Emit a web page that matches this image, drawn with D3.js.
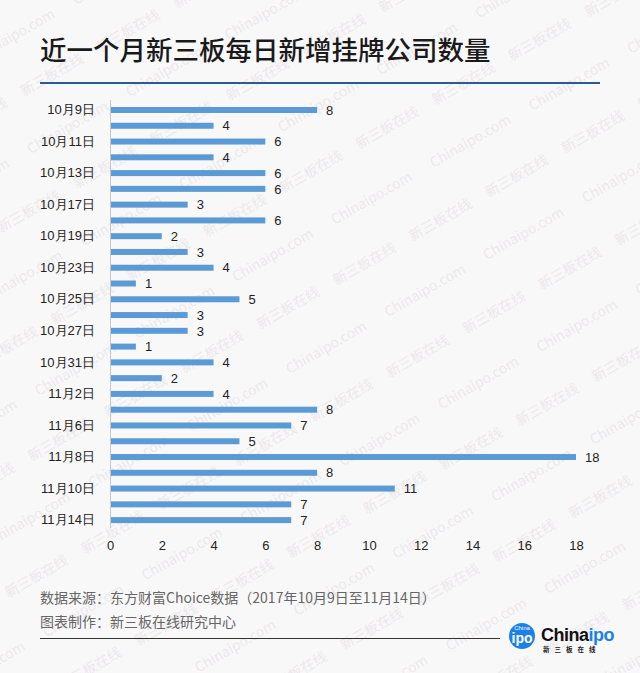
<!DOCTYPE html>
<html><head><meta charset="utf-8">
<script src="https://cdn.jsdelivr.net/npm/d3@7"></script>
<style>
html,body{margin:0;padding:0;background:#f9f8f9;}
svg{display:block;font-family:"Noto Sans CJK SC","Noto Sans",sans-serif;}
</style></head>
<body><svg id="c" width="640" height="673"></svg>
<script>
const dates = ["10月9日","10月10日","10月11日","10月12日","10月13日","10月16日","10月17日","10月18日","10月19日","10月20日","10月23日","10月24日","10月25日","10月26日","10月27日","10月30日","10月31日","11月1日","11月2日","11月3日","11月6日","11月7日","11月8日","11月9日","11月10日","11月13日","11月14日"];
const values = [8,4,6,4,6,6,3,6,2,3,4,1,5,3,3,1,4,2,4,8,7,5,18,8,11,7,7];
const labelledDates = dates.filter((d,i)=>i%2===0);
const xTicks = [0,2,4,6,8,10,12,14,16,18];
const title = "近一个月新三板每日新增挂牌公司数量";
const source = "数据来源：东方财富Choice数据（2017年10月9日至11月14日）";
const maker = "图表制作：新三板在线研究中心";
const watermarks = ["Chinaipo.com","新三板在线"];

const svg = d3.select("#c");
svg.append("rect").attr("width",640).attr("height",673).attr("fill","#f9f8f9");

// watermark grid (decoration) in a frame rotated by -30 degrees
const wm = svg.append("g").attr("fill","#ebe9eb").attr("font-size",14);
const c30 = Math.cos(Math.PI/6), s30 = Math.sin(Math.PI/6);
for (let row = -4; row < 20; row++) {
  const v = 149 + row*53.3;
  const isCom = ((row % 2) + 2) % 2 === 0;
  const step = isCom ? 114 : 88;
  const u0 = isCom ? 63.5 : 60.5;
  for (let j = -8; j < 10; j++) {
    const u = u0 + j*step;
    const px = c30*u + s30*v, py = -s30*u + c30*v;
    if (px < -110 || px > 700 || py < -10 || py > 740) continue;
    wm.append("text").attr("transform",`translate(${px.toFixed(1)},${py.toFixed(1)}) rotate(-30)`)
      .text(watermarks[isCom ? 0 : 1]);
  }
}

// title
svg.append("text").attr("x",40).attr("y",60).attr("font-size",26.5).attr("font-weight",500).attr("fill","#1a1a1a").text(title);
svg.append("rect").attr("x",40).attr("y",82).attr("width",560).attr("height",2).attr("fill","#2b5b97");

const x = d3.scaleLinear().domain([0,18]).range([110,576]);
const y = d3.scaleBand().domain(dates).range([102.1,528]).paddingInner(0.62).paddingOuter(0.31);

svg.append("line").attr("x1",110.5).attr("x2",110.5).attr("y1",100).attr("y2",528).attr("stroke","#c8c8c8");

svg.append("g").selectAll("rect").data(values).join("rect")
  .attr("x",x(0)+1).attr("y",(d,i)=>y(dates[i]))
  .attr("width",d=>x(d)-x(0)-1).attr("height",y.bandwidth()).attr("fill","#5b9bd5");

svg.append("g").attr("font-size",13).attr("fill","#222").attr("font-family","Liberation Sans")
  .selectAll("text").data(values).join("text")
  .attr("x",d=>x(d)+9).attr("y",(d,i)=>y(dates[i])+y.bandwidth()/2)
  .attr("dy","0.36em").text(d=>d);

const yAxis = d3.axisLeft(y).tickValues(labelledDates).tickSize(0).tickPadding(15);
const ya = svg.append("g").attr("transform","translate(110,0)").call(yAxis);
ya.select(".domain").remove();
ya.selectAll("text").attr("font-size",13).attr("fill","#222").attr("font-family",null);

const xAxis = d3.axisBottom(x).tickValues(xTicks).tickSize(0).tickPadding(0);
const xa = svg.append("g").attr("transform","translate(0,541)").call(xAxis);
xa.select(".domain").remove();
xa.selectAll("text").attr("font-size",13).attr("fill","#222").attr("font-family",null);

// footer
svg.append("text").attr("x",40).attr("y",603).attr("font-size",14).attr("fill","#666").text(source);
svg.append("text").attr("x",40).attr("y",627).attr("font-size",14).attr("fill","#666").text(maker);
svg.append("line").attr("x1",40).attr("x2",500).attr("y1",638.5).attr("y2",638.5).attr("stroke","#333");

// logo
const lg = svg.append("g");
lg.append("circle").attr("cx",522).attr("cy",636).attr("r",13).attr("fill","#1c80e6");
lg.append("text").attr("x",522).attr("y",630).attr("text-anchor","middle").attr("font-size",6).attr("fill","#fff").attr("font-family","Liberation Sans").text("China");
lg.append("text").attr("x",522).attr("y",643).attr("text-anchor","middle").attr("font-size",14).attr("font-weight","bold").attr("fill","#fff").attr("font-family","Liberation Sans").text("ipo");
const lt = lg.append("text").attr("x",541).attr("y",641).attr("font-size",18).attr("font-weight","bold").attr("font-family","Liberation Sans").attr("letter-spacing","-0.5");
lt.append("tspan").attr("fill","#111").text("China");
lt.append("tspan").attr("fill","#1c80e6").text("ipo");
lg.append("text").attr("x",543).attr("y",652).attr("font-size",6.5).attr("font-weight","bold").attr("fill","#222").attr("letter-spacing","5").text("新三板在线");
</script></body></html>
